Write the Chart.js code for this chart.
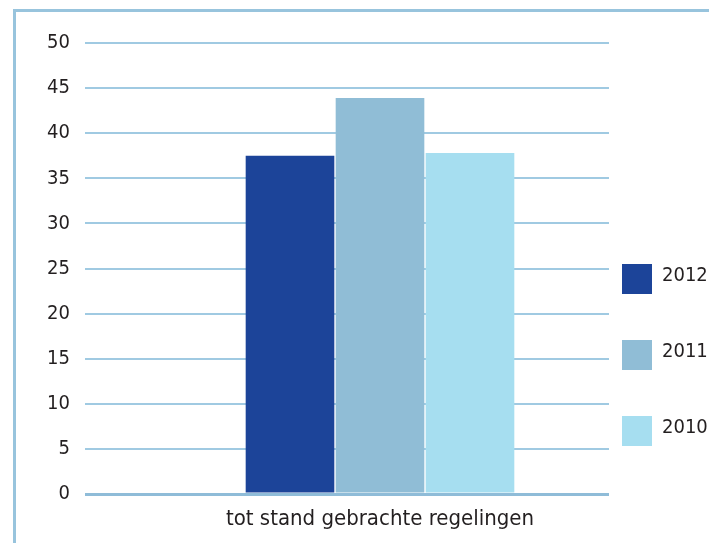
<!DOCTYPE html>
<html>
<head>
<meta charset="utf-8">
<script src="https://cdn.jsdelivr.net/npm/chart.js@4/dist/chart.umd.min.js"></script>
<style>
  html, body { margin: 0; padding: 0; width: 709px; height: 543px; overflow: hidden; background: #fff; }
  #frame { position: absolute; left: 13px; top: 9px; width: 800px; height: 700px; border: 3px solid #98c4dd; box-sizing: border-box; }
  #chart { position: absolute; left: 0; top: 0; }
  #legend { position: absolute; left: 622px; top: 264px; font-family: "DejaVu Sans Condensed", "DejaVu Sans", sans-serif; font-size: 20px; color: #231f20; }
  .item { position: relative; height: 30px; margin-bottom: 46px; }
  .box { position: absolute; left: 0; top: 0; width: 30px; height: 30px; }
  .lbl { position: absolute; left: 40px; top: 0px; line-height: 20px; }
</style>
</head>
<body>
<div id="frame"></div>
<canvas id="chart" width="709" height="543"></canvas>
<div id="legend"></div>
<script>
const categories = ["tot stand gebrachte regelingen"];
const years = ["2012", "2011", "2010"];
const values2012 = [37.5];
const values2011 = [43.9];
const values2010 = [37.8];
const yTicks = [0, 5, 10, 15, 20, 25, 30, 35, 40, 45, 50];

const colors = ["#1c4499", "#90bdd6", "#a6def0"];
const seriesValues = [values2012, values2011, values2010];

const font = { family: "'DejaVu Sans Condensed', 'DejaVu Sans', sans-serif", size: 20 };

// grid lines stop short of the legend column in the original
const gridCut = {
  id: "gridCut",
  beforeDatasetsDraw(chart) {
    const { ctx, chartArea } = chart;
    ctx.save();
    ctx.fillStyle = "#fff";
    ctx.fillRect(609, chartArea.top - 3, chartArea.right - 609 + 5, chartArea.bottom - chartArea.top + 8);
    ctx.restore();
  },
};

const ctx = document.getElementById("chart").getContext("2d");
new Chart(ctx, {
  type: "bar",
  data: {
    labels: categories,
    datasets: years.map((y, i) => ({
      label: y,
      data: seriesValues[i],
      backgroundColor: colors[i],
      barPercentage: 0.985,
      categoryPercentage: 0.4576,
    })),
  },
  options: {
    responsive: false,
    animation: false,
    layout: { padding: { top: 43, right: 34, bottom: 0, left: 0 } },
    scales: {
      x: {
        grid: { display: false, drawTicks: false },
        border: { display: false },
        ticks: { color: "#231f20", font: { family: font.family, size: 22 }, padding: 12 },
        afterFit(scale) { scale.height = 49; },
      },
      y: {
        min: 0,
        max: 50,
        afterBuildTicks(scale) { scale.ticks = yTicks.map(v => ({ value: v })); },
        grid: {
          color: (c) => (c.tick && c.tick.value === 0 ? "#8fbcd8" : "#a0cae2"),
          lineWidth: (c) => (c.tick && c.tick.value === 0 ? 3 : 2),
          drawTicks: false,
        },
        border: { display: false },
        ticks: { color: "#231f20", font: font, padding: 15 },
        afterFit(scale) { scale.width = 85; },
      },
    },
    plugins: {
      legend: { display: false },
      tooltip: { enabled: false },
    },
  },
  plugins: [gridCut],
});

const legend = document.getElementById("legend");
years.forEach((y, i) => {
  const item = document.createElement("div");
  item.className = "item";
  item.innerHTML = '<div class="box" style="background:' + colors[i] + '"></div><div class="lbl">' + y + "</div>";
  legend.appendChild(item);
});
</script>
</body>
</html>
